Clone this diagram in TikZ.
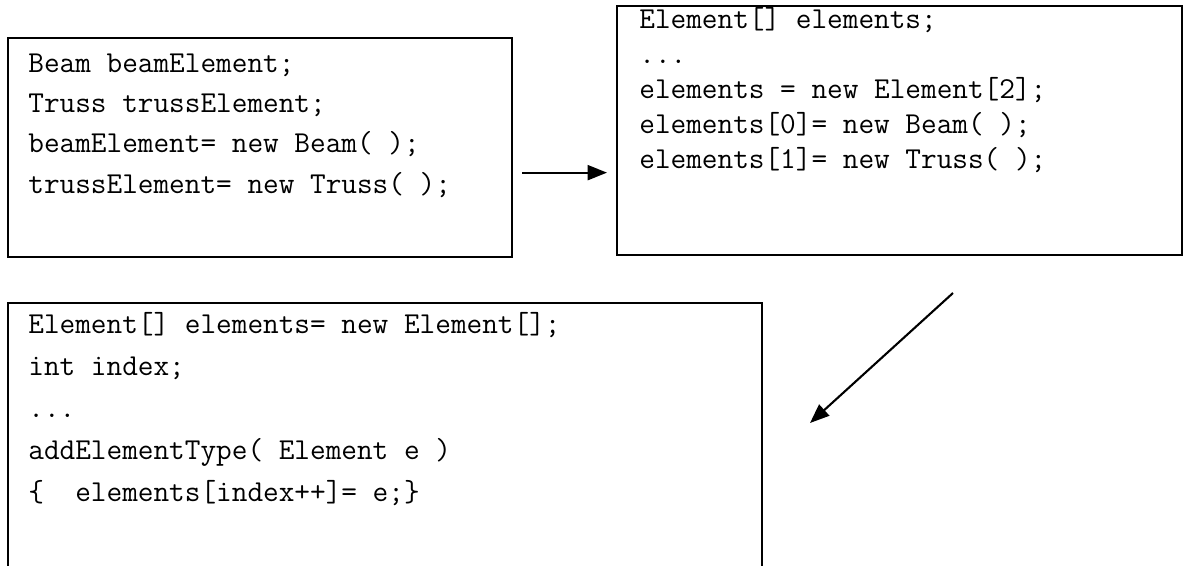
\documentclass[tikz,border=0pt]{standalone}
\usepackage{fontspec}
\usetikzlibrary{arrows.meta, positioning}

\begin{document}
\begin{tikzpicture}[x=0.02cm, y=0.02cm,
  codebox/.style={draw, line width=1.3pt, inner sep=0pt, anchor=north west},
  codetext/.style={inner sep=0pt, anchor=base west, align=left,
    font=\ttfamily\fontsize{17.3}{#1}\selectfont},
  flow/.style={-{Triangle[length=11pt,width=8.5pt]}, line width=1.2pt}]
  \def\pxu{0.02cm}
  \useasboundingbox (0,0) rectangle (1185,-565);
  % code boxes
  \node[codebox, minimum width=504*\pxu, minimum height=219*\pxu] (single) at (7,-37) {};
  \node[codebox, minimum width=565*\pxu, minimum height=249*\pxu] (arrays) at (616,-5) {};
  \node[codebox, minimum width=754*\pxu, minimum height=280*\pxu] (adder) at (7,-302) {};
  % code lines (base anchor sits on the last line)
  \node[codetext=22.8pt] (singlecode) at (28,-193)
    {Beam beamElement;\\Truss trussElement;\\beamElement= new Beam( );\\trussElement= new Truss( );};
  \node[codetext=19.9pt] (arrayscode) at (639,-168)
    {Element[] elements;\\...\\elements = new Element[2];\\elements[0]= new Beam( );\\elements[1]= new Truss( );};
  \node[codetext=23.9pt] (addercode) at (28,-501)
    {Element[] elements= new Element[];\\int index;\\...\\addElementType( Element e )\\\{\ \ elements[index++]= e;\}};
  % arrows
  \coordinate (from) at (953,-293);
  \coordinate (to) at (810,-423);
  \draw[flow] ([shift={(9,-25)}]single.east) -- ([shift={(-9,-25)}]single.east -| arrays.west);
  \draw[flow] (from) -- (to);
\end{tikzpicture}
\end{document}
